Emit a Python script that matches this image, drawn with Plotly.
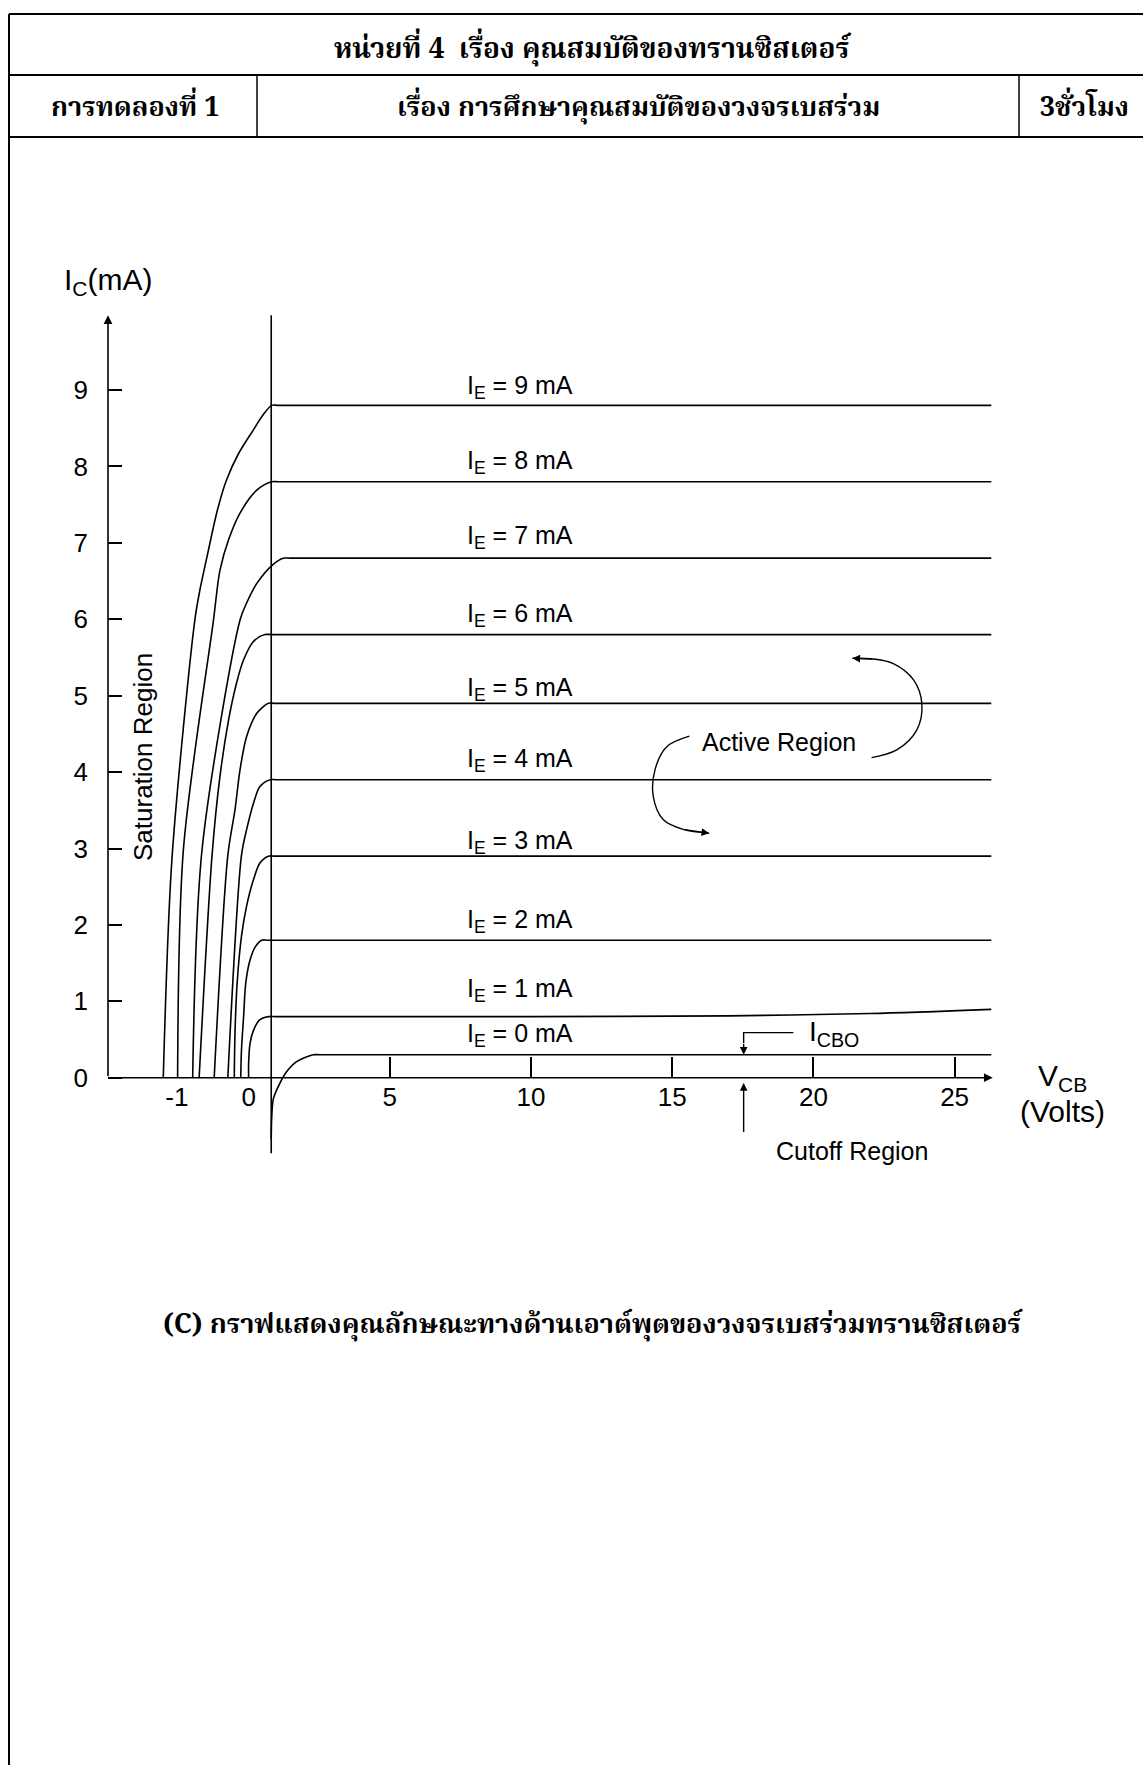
import plotly.graph_objects as go

W, H = 1143, 1765

# ---------------- data ----------------
# Emitter current of each characteristic (mA) and the collector current
# each one levels off at in the active region (mA).
ie_ma = [0, 1, 2, 3, 4, 5, 6, 7, 8, 9]
ic_flat_ma = [0.30, 0.80, 1.80, 2.90, 3.90, 4.90, 5.80, 6.80, 7.80, 8.80]
vcb_end = 26.3          # right end of every curve (V)
vcb_boundary = 0.80     # vertical reference line (V)

# Rising (saturation) part of every curve, ending at its knee: VCB (V), IC (mA)
rise_vcb_0 = [0.80, 0.82, 0.88, 1.11, 1.35, 1.70, 2.29]
rise_ic_0 = [-0.80, -0.50, -0.27, -0.07, 0.08, 0.21, 0.30]
rise_vcb_1 = [0.0, 0.0, 0.05, 0.17, 0.40, 0.70]
rise_ic_1 = [0.0, 0.19, 0.45, 0.62, 0.76, 0.80]
rise_vcb_2 = [-0.11, -0.10, -0.07, -0.04, 0.05, 0.23, 0.46]
rise_ic_2 = [0.0, 0.36, 0.80, 1.24, 1.54, 1.71, 1.80]
rise_vcb_3 = [-0.20, -0.19, -0.16, -0.10, -0.03, 0.17, 0.40, 0.70]
rise_ic_3 = [0.0, 0.59, 1.24, 1.85, 2.24, 2.59, 2.81, 2.90]
rise_vcb_4 = [-0.29, -0.10, -0.03, 0.17, 0.40, 0.76]
rise_ic_4 = [0.0, 2.91, 3.24, 3.59, 3.81, 3.90]
rise_vcb_5 = [-0.48, -0.29, -0.19, -0.12, -0.03, 0.29, 0.70]
rise_ic_5 = [0.0, 2.91, 3.51, 4.03, 4.46, 4.77, 4.90]
rise_vcb_6 = [-0.69, -0.51, -0.40, -0.28, -0.17, -0.07, 0.17, 0.58]
rise_ic_6 = [0.0, 2.91, 3.94, 4.68, 5.16, 5.47, 5.71, 5.80]
rise_vcb_7 = [-0.78, -0.65, -0.12, -0.03, 0.29, 0.87, 1.23]
rise_ic_7 = [0.0, 2.98, 5.99, 6.21, 6.47, 6.72, 6.80]
rise_vcb_8 = [-0.99, -0.91, -0.49, -0.40, -0.28, -0.12, 0.29, 0.82]
rise_ic_8 = [0.0, 2.98, 5.99, 6.64, 7.04, 7.39, 7.69, 7.80]
rise_vcb_9 = [-1.19, -1.07, -0.75, -0.68, -0.58, -0.435, -0.31, -0.14, 0.17, 0.52, 0.82]
rise_ic_9 = [0.0, 2.85, 5.99, 6.38, 6.82, 7.43, 7.82, 8.17, 8.48, 8.68, 8.80]

# The IE = 1 mA curve creeps upward at high VCB
tail_vcb_1 = [10.0, 17.0, 22.0, 26.3]
tail_ic_1 = [0.80, 0.81, 0.84, 0.895]

# Axis ticks
x_ticks_pos = [5, 10, 15, 20, 25]
x_ticks_neg = [-1, 0]
y_ticks = [0, 1, 2, 3, 4, 5, 6, 7, 8, 9]

# Pointers
icbo_vcb = 17.53

rise_vcb = [rise_vcb_0, rise_vcb_1, rise_vcb_2, rise_vcb_3, rise_vcb_4,
            rise_vcb_5, rise_vcb_6, rise_vcb_7, rise_vcb_8, rise_vcb_9]
rise_ic = [rise_ic_0, rise_ic_1, rise_ic_2, rise_ic_3, rise_ic_4,
           rise_ic_5, rise_ic_6, rise_ic_7, rise_ic_8, rise_ic_9]

# ---------------- axis scaling ----------------
# The negative-VCB side is drawn stretched so the saturation curves are legible.
NEG_STRETCH = 2.54


def to_axis(v):
    return v * NEG_STRETCH if v < 0 else v


X_RANGE = [-4.98, 26.7]
Y_RANGE = [-1.2, 10.2]
X_DOM = [108 / W, 1002.6 / W]
Y_DOM = [1 - 1169.4 / H, 1 - 298.4 / H]
Y_ZERO_PAPER = 1 - 1077.7 / H

LINE = dict(color="black", width=1.6)
FONT = "Liberation Sans, Arial, sans-serif"
THAI = "Noto Serif Thai, Noto Sans Thai, Norasi, Tlwg Typo, Loma, Garuda, DejaVu Serif, serif"
KNEE_RUN = 0.25
SMOOTH = 0.85

fig = go.Figure()

for k, ie in enumerate(ie_ma):
    xs = [to_axis(v) for v in rise_vcb[k]]
    ys = list(rise_ic[k])
    knee = xs[-1]
    xs.append(knee + KNEE_RUN)
    ys.append(ic_flat_ma[k])
    if ie == 1:
        xs += [to_axis(v) for v in tail_vcb_1]
        ys += tail_ic_1
    else:
        xs.append(to_axis(vcb_end))
        ys.append(ic_flat_ma[k])
    fig.add_trace(go.Scatter(x=xs, y=ys, mode="lines",
                             line=dict(shape="spline", smoothing=SMOOTH, **LINE),
                             hoverinfo="skip", showlegend=False))

# vertical boundary line
fig.add_trace(go.Scatter(x=[vcb_boundary, vcb_boundary], y=[-0.99, 9.98], mode="lines",
                         line=LINE, hoverinfo="skip", showlegend=False))

# carrier for the second x axis (labels of the stretched negative side)
fig.add_trace(go.Scatter(x=[to_axis(v) for v in x_ticks_neg], y=[0, 0], xaxis="x2",
                         mode="markers", marker=dict(opacity=0), hoverinfo="skip",
                         showlegend=False))

# "Active Region" curved pointers
act_low_x = [15.61, 14.80, 14.39, 14.33, 14.68, 15.39, 16.31]
act_low_y = [4.47, 4.33, 4.03, 3.68, 3.38, 3.25, 3.20]
act_up_x = [22.06, 22.95, 23.66, 23.84, 23.54, 22.83, 22.12, 21.38]
act_up_y = [4.19, 4.29, 4.55, 4.90, 5.21, 5.42, 5.48, 5.49]
for px_, py_ in ((act_low_x, act_low_y), (act_up_x, act_up_y)):
    fig.add_trace(go.Scatter(x=px_, y=py_, mode="lines",
                             line=dict(shape="spline", color="black", width=1.4),
                             hoverinfo="skip", showlegend=False))

# ICBO leader
fig.add_trace(go.Scatter(x=[19.29, icbo_vcb, icbo_vcb], y=[0.59, 0.59, 0.45], mode="lines",
                         line=dict(color="black", width=1.4), hoverinfo="skip",
                         showlegend=False))

ann = []


def arrow(x, y, ax, ay, width=1.6, size=1.1):
    ann.append(dict(x=x, y=y, ax=ax, ay=ay, xref="x", yref="y", axref="x", ayref="y",
                    text="", showarrow=True, arrowhead=2, arrowsize=size,
                    arrowwidth=width, arrowcolor="black", standoff=0, startstandoff=0))


# axes drawn as arrows
arrow(26.35, 0, X_RANGE[0], 0)
arrow(X_RANGE[0], 9.98, X_RANGE[0], 0)
# arrowheads of the curved pointers
arrow(act_low_x[-1], act_low_y[-1], act_low_x[-2], act_low_y[-2], 1.4)
arrow(act_up_x[-1], act_up_y[-1], act_up_x[-2], act_up_y[-2], 1.4)
# ICBO and cutoff pointers
arrow(icbo_vcb, 0.30, icbo_vcb, 0.46, 1.4)
arrow(icbo_vcb, -0.07, icbo_vcb, -0.73, 1.4)

LABEL = dict(family=FONT, size=25, color="black")

# curve labels
label_lift_px = [20, 27, 19, 14, 20, 14, 20, 21, 20, 18]
for k, ie in enumerate(ie_ma):
    ann.append(dict(x=7.66, y=ic_flat_ma[k], xref="x", yref="y", xanchor="left",
                    yanchor="middle", yshift=label_lift_px[k], showarrow=False,
                    text=f"I<sub>E</sub> = {ie} mA", font=LABEL))

ann.append(dict(x=18.78, y=4.39, xref="x", yref="y", xanchor="center", yanchor="middle",
                showarrow=False, text="Active Region", font=LABEL))
ann.append(dict(x=19.79, y=0.585, xref="x", yref="y", xanchor="left", yanchor="middle",
                showarrow=False, text="I<sub>CBO</sub>",
                font=dict(family=FONT, size=28, color="black")))
ann.append(dict(x=21.37, y=-0.96, xref="x", yref="y", xanchor="center", yanchor="middle",
                showarrow=False, text="Cutoff Region", font=LABEL))


def paper(x, y):
    return x / W, 1 - y / H


def ptext(x, y, text, size, family=FONT, bold=False, angle=0):
    px_, py_ = paper(x, y)
    ann.append(dict(x=px_, y=py_, xref="paper", yref="paper", showarrow=False,
                    xanchor="center", yanchor="middle",
                    text=f"<b>{text}</b>" if bold else text, textangle=angle,
                    font=dict(family=family, size=size, color="black")))


ptext(108, 281, "I<sub>C</sub>(mA)", 30)
ptext(143, 757, "Saturation Region", 26, angle=-90)
ptext(1062, 1077, "V<sub>CB</sub>", 30)
ptext(1062, 1111, "(Volts)", 30)

# header block
ptext(593, 50, "หน่วยที่ 4\u00a0 เรื่อง คุณสมบัติของทรานซิสเตอร์", 28, THAI, True)
ptext(135, 108, "การทดลองที่ 1", 27, THAI, True)
ptext(638, 108, "เรื่อง การศึกษาคุณสมบัติของวงจรเบสร่วม", 27, THAI, True)
ptext(1084, 108, "3ชั่วโมง", 27, THAI, True)
# caption
ptext(593, 1325, "(C) กราฟแสดงคุณลักษณะทางด้านเอาต์พุตของวงจรเบสร่วมทรานซิสเตอร์", 27, THAI, True)

shapes = []


def pline(x0, y0, x1, y1, w=2):
    a, b = paper(x0, y0)
    c, d = paper(x1, y1)
    shapes.append(dict(type="line", xref="paper", yref="paper", x0=a, y0=b, x1=c, y1=d,
                       line=dict(color="black", width=w)))


pline(9, 14, 1143, 14)
pline(9, 75, 1143, 75)
pline(9, 137, 1143, 137)
pline(9, 14, 9, 1765)
pline(257, 75, 257, 137, 1.5)
pline(1019, 75, 1019, 137, 1.5)

tickfont = dict(family=FONT, size=26, color="black")
fig.update_layout(
    width=W, height=H, margin=dict(l=0, r=0, t=0, b=0),
    paper_bgcolor="white", plot_bgcolor="white",
    xaxis=dict(domain=X_DOM, range=X_RANGE, anchor="free", position=Y_ZERO_PAPER,
               tickmode="array", tickvals=x_ticks_pos, ticktext=[str(v) for v in x_ticks_pos],
               ticks="inside", ticklen=21, tickwidth=1.5, tickcolor="black",
               showgrid=False, zeroline=False, showline=False, tickfont=tickfont,
               ticklabelstandoff=1),
    xaxis2=dict(domain=X_DOM, range=X_RANGE, anchor="free", position=Y_ZERO_PAPER,
                overlaying="x", side="bottom", tickmode="array",
                tickvals=[to_axis(v) for v in x_ticks_neg],
                ticktext=[str(v) for v in x_ticks_neg], ticks="",
                showgrid=False, zeroline=False, showline=False, tickfont=tickfont,
                ticklabelstandoff=1),
    yaxis=dict(domain=Y_DOM, range=Y_RANGE, anchor="x", tickmode="array",
               tickvals=y_ticks, ticks="inside", ticklen=14, tickwidth=1.5,
               tickcolor="black", showgrid=False, zeroline=False, showline=False,
               tickfont=tickfont, ticklabelstandoff=19),
    annotations=ann, shapes=shapes,
)

fig.write_html("out.html")
